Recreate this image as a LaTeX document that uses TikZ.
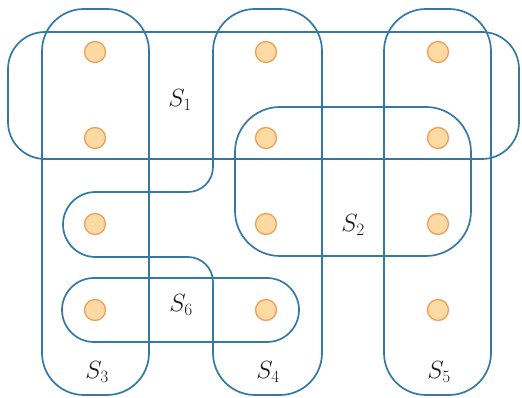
\documentclass[tikz,border=0pt]{standalone}
\begin{document}
\begin{tikzpicture}[x=1pt,y=1pt,
  setline/.style={draw=setblue,line width=1.7pt},
  dot/.style={circle,draw=dotline,fill=dotfill,line width=1.3pt,minimum size=21pt,inner sep=0pt},
  lab/.style={font=\fontsize{25}{30}\selectfont,text=black!90}]
\definecolor{setblue}{HTML}{3479A6}
\definecolor{dotline}{HTML}{EDA058}
\definecolor{dotfill}{HTML}{FDD9A4}
\useasboundingbox (0,0) rectangle (522,398);
% S1
\draw[setline,rounded corners=37pt] (8,239) rectangle (519,366);
% S2
\draw[setline,rounded corners=45pt] (235,142) rectangle (471,291);
% S3
\draw[setline,rounded corners=42pt] (42,3) rectangle (149,389);
% S5
\draw[setline,rounded corners=42pt] (384,3) rectangle (491,389);
% S6
\draw[setline,rounded corners=32pt] (62,56) rectangle (299,120);
% S4
\draw[setline] (213,231) -- (213,347) arc[start angle=180,end angle=90,radius=42]
  -- (280,389) arc[start angle=90,end angle=0,radius=42]
  -- (322,45) arc[start angle=0,end angle=-90,radius=42]
  -- (255,3) arc[start angle=-90,end angle=-180,radius=42]
  -- (213,116) arc[start angle=0,end angle=90,radius=25]
  -- (95.5,141) arc[start angle=270,end angle=90,radius=32.5]
  -- (188,206) arc[start angle=270,end angle=360,radius=25] -- cycle;
% dots
\foreach \c/\x in {1/95,2/266,3/438}{
  \foreach \r/\y in {1/346,2/260,3/174,4/88}{
    \node[dot] (d\c\r) at (\x,\y) {};
  }
}
% labels
\node[lab] (l1) at (180,298) {$S_1$};
\node[lab] (l2) at (353,173) {$S_2$};
\node[lab] (l3) at (97,26) {$S_3$};
\node[lab] (l4) at (268,26) {$S_4$};
\node[lab] (l5) at (439,26) {$S_5$};
\node[lab] (l6) at (181,93) {$S_6$};
\end{tikzpicture}
\end{document}
